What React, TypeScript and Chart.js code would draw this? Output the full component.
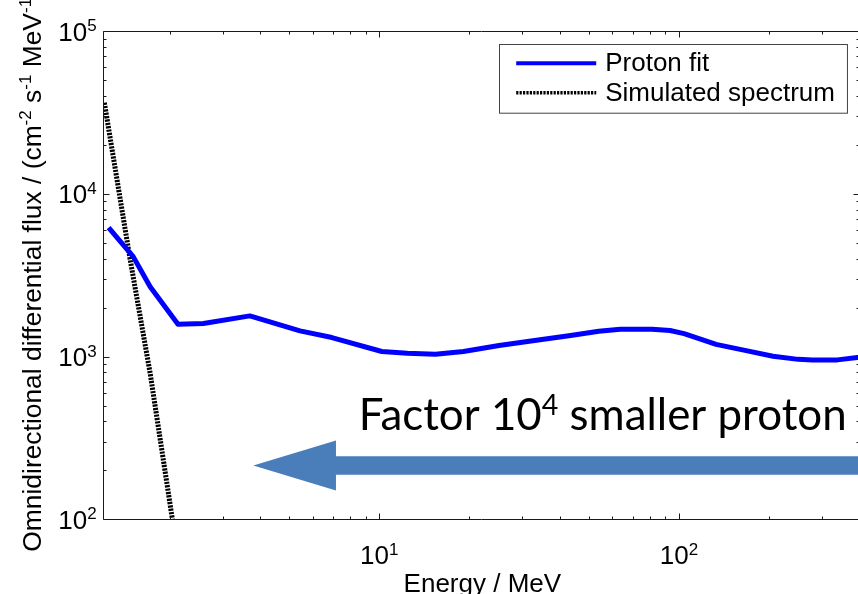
import React, { useEffect, useRef } from "react";
import { Chart, registerables } from "chart.js";

Chart.register(...registerables);

// ---- data ----
const protonEnergy = [1.25, 1.51, 1.72, 2.13, 2.59, 3.7, 5.44, 6.95, 10.2, 12.4, 15.4, 19.1, 25.1, 33.0, 43.5, 54.0, 63.7, 81.4, 93.4, 104, 116, 133, 166, 206, 250, 279, 338, 400];
const protonFlux = [6200, 4120, 2690, 1580, 1600, 1780, 1440, 1310, 1075, 1048, 1035, 1075, 1170, 1256, 1350, 1433, 1475, 1475, 1447, 1385, 1296, 1190, 1092, 1005, 962, 955, 955, 990];
const simEnergy = [1.21, 1.47, 1.72, 2.04];
const simFlux = [36400, 4100, 790, 100];
const seriesLabels = ["Proton fit", "Simulated spectrum"];
const xRange = [1.2, 400];
const yRange = [100, 100000];
const xTitle = "Energy / MeV";
const yTitleParts: [string, boolean][] = [
  ["Omnidirectional differential flux / (cm", false],
  ["-2", true],
  [" s", false],
  ["-1", true],
  [" MeV", false],
  ["-1", true],
  [")", false],
];
const annotationParts: [string, boolean][] = [
  ["Factor 10", false],
  ["4", true],
  [" smaller proton", false],
];
// annotation anchor in data coordinates
const annotationAt = { energy: 8.54, flux: 352 };
const arrowTipAt = { energy: 3.8, flux: 214 };
const arrowHeadBaseEnergy = 7.17;

const SANS = '"Liberation Sans", Arial, sans-serif';

function richWidth(ctx: CanvasRenderingContext2D, parts: [string, boolean][], size: number, supSize: number, family: string) {
  let w = 0;
  for (const [t, sup] of parts) {
    ctx.font = `${sup ? supSize : size}px ${family}`;
    w += ctx.measureText(t).width;
  }
  return w;
}

function drawRich(ctx: CanvasRenderingContext2D, parts: [string, boolean][], x: number, y: number, size: number, supSize: number, raise: number, family: string) {
  let cx = x;
  ctx.textAlign = "left";
  ctx.textBaseline = "alphabetic";
  for (const [t, sup] of parts) {
    ctx.font = `${sup ? supSize : size}px ${family}`;
    ctx.fillText(t, cx, sup ? y - raise : y);
    cx += ctx.measureText(t).width;
  }
}

const overlay = {
  id: "overlay",
  afterDraw(chart: any) {
    const { ctx, chartArea: a, scales } = chart;
    const xs = scales.x;
    const ys = scales.y;
    ctx.save();
    ctx.fillStyle = "#000";
    ctx.strokeStyle = "#1a1a1a";
    ctx.lineWidth = 1;

    // frame
    const L = Math.round(a.left) + 0.5, T = Math.round(a.top) + 0.5;
    const R = Math.round(a.right) + 0.5, B = Math.round(a.bottom) + 0.5;
    ctx.beginPath();
    ctx.rect(L, T, R - L, B - T);
    ctx.stroke();

    // ticks (inward, all sides)
    ctx.beginPath();
    for (let e = 0; e <= 3; e++) {
      for (let m = 1; m <= 9; m++) {
        const v = m * Math.pow(10, e);
        if (v < xRange[0] || v > xRange[1]) continue;
        const px = Math.round(xs.getPixelForValue(v)) + 0.5;
        const len = m === 1 ? 6 : 3;
        ctx.moveTo(px, B); ctx.lineTo(px, B - len);
        ctx.moveTo(px, T); ctx.lineTo(px, T + len);
      }
    }
    for (let e = 2; e <= 5; e++) {
      for (let m = 1; m <= 9; m++) {
        const v = m * Math.pow(10, e);
        if (v < yRange[0] || v > yRange[1]) continue;
        const py = Math.round(ys.getPixelForValue(v)) + 0.5;
        const len = m === 1 ? 6 : 3;
        ctx.moveTo(L, py); ctx.lineTo(L + len, py);
        ctx.moveTo(R, py); ctx.lineTo(R - len, py);
      }
    }
    ctx.stroke();

    // tick labels
    const size = 26, sup = 17, raise = 9.5;
    for (let e = 2; e <= 5; e++) {
      const v = Math.pow(10, e);
      const py = ys.getPixelForValue(v);
      const parts: [string, boolean][] = [["10", false], [String(e), true]];
      const w = richWidth(ctx, parts, size, sup, SANS);
      drawRich(ctx, parts, a.left - 6.6 - w, py + 9.5, size, sup, raise, SANS);
    }
    for (let e = 1; e <= 2; e++) {
      const v = Math.pow(10, e);
      const px = xs.getPixelForValue(v);
      const parts: [string, boolean][] = [["10", false], [String(e), true]];
      const w = richWidth(ctx, parts, size, sup, SANS);
      drawRich(ctx, parts, px - w / 2, a.bottom + 45, size, sup, raise, SANS);
    }

    // axis titles
    ctx.font = `26px ${SANS}`;
    ctx.textAlign = "center";
    ctx.textBaseline = "alphabetic";
    ctx.fillText(xTitle, (a.left + a.right) / 2 + 1, a.bottom + 73);

    ctx.save();
    ctx.translate(40.5, a.bottom + 32.4);
    ctx.rotate(-Math.PI / 2);
    drawRich(ctx, yTitleParts, 0, 0, 26.4, 17, 9.5, SANS);
    ctx.restore();

    // legend
    const ds = chart.data.datasets;
    ctx.font = `26px ${SANS}`;
    const tw = Math.max(...ds.map((d: any) => ctx.measureText(d.label).width));
    const boxW = 16.7 + 80 + 9 + tw + 12.5;
    const boxH = 68.7;
    const bx = Math.round(a.right - 12.7 - boxW) + 0.5;
    const by = Math.round(a.top + 12.7) + 0.5;
    ctx.fillStyle = "#fff";
    ctx.fillRect(bx, by, boxW, boxH);
    ctx.strokeStyle = "#444";
    ctx.lineWidth = 1;
    ctx.strokeRect(bx, by, boxW, boxH);
    const rows = [18.7, 48.3];
    ds.forEach((d: any, i: number) => {
      const ry = by + rows[i];
      ctx.save();
      ctx.strokeStyle = d.borderColor;
      ctx.lineWidth = i === 0 ? 4 : 3.5;
      ctx.setLineDash(d.borderDash || []);
      ctx.beginPath();
      ctx.moveTo(bx + 16.7, ry);
      ctx.lineTo(bx + 96.7, ry);
      ctx.stroke();
      ctx.restore();
      ctx.fillStyle = "#000";
      ctx.font = `26px ${SANS}`;
      ctx.textAlign = "left";
      ctx.textBaseline = "middle";
      ctx.fillText(d.label, bx + 105.7, ry + 1);
    });

    // annotation text
    const LATO = "Lato, sans-serif";
    const w40 = richWidth(ctx, annotationParts, 40, 26, LATO);
    const fs = (40 * 488) / w40;
    ctx.fillStyle = "#000";
    drawRich(ctx, annotationParts, xs.getPixelForValue(annotationAt.energy), ys.getPixelForValue(annotationAt.flux), fs, fs * 0.65, fs * 0.36, LATO);

    // arrow
    const tx = xs.getPixelForValue(arrowTipAt.energy);
    const cy = ys.getPixelForValue(arrowTipAt.flux);
    const hb = xs.getPixelForValue(arrowHeadBaseEnergy);
    const xr = chart.width + 10;
    const sh = 9.25, hh = 25;
    ctx.fillStyle = "#4A7EBB";
    ctx.beginPath();
    ctx.moveTo(tx, cy);
    ctx.lineTo(hb, cy - hh);
    ctx.lineTo(hb, cy - sh);
    ctx.lineTo(xr, cy - sh);
    ctx.lineTo(xr, cy + sh);
    ctx.lineTo(hb, cy + sh);
    ctx.lineTo(hb, cy + hh);
    ctx.closePath();
    ctx.fill();

    ctx.restore();
  },
};

export default function App() {
  const ref = useRef<HTMLCanvasElement>(null);
  useEffect(() => {
    document.body.style.margin = "0";
    document.body.style.overflow = "hidden";
    const W = 866, H = 594;
    const chart = new Chart(ref.current as HTMLCanvasElement, {
      type: "line",
      data: {
        datasets: [
          {
            label: seriesLabels[0],
            data: protonEnergy.map((x, i) => ({ x, y: protonFlux[i] })),
            borderColor: "#0000FF",
            borderWidth: 5,
            borderJoinStyle: "round",
            pointRadius: 0,
            tension: 0,
            fill: false,
          },
          {
            label: seriesLabels[1],
            data: simEnergy.map((x, i) => ({ x, y: simFlux[i] })),
            borderColor: "#000000",
            borderWidth: 5,
            borderDash: [2.2, 1.2],
            pointRadius: 0,
            tension: 0,
            fill: false,
          },
        ],
      },
      options: {
        responsive: false,
        animation: false,
        layout: { padding: { left: 103.3, top: 31.3, right: W - 859.4, bottom: H - 519.3 } },
        plugins: { legend: { display: false }, tooltip: { enabled: false } },
        scales: {
          x: { type: "logarithmic", min: xRange[0], max: xRange[1], display: false },
          y: { type: "logarithmic", min: yRange[0], max: yRange[1], display: false },
        },
      },
      plugins: [overlay],
    });
    return () => chart.destroy();
  }, []);
  return (
    <div style={{ position: "absolute", left: 0, top: 0, width: 866, height: 594, background: "#fff" }}>
      <canvas ref={ref} width={866} height={594} style={{ width: 866, height: 594, display: "block" }} />
    </div>
  );
}
